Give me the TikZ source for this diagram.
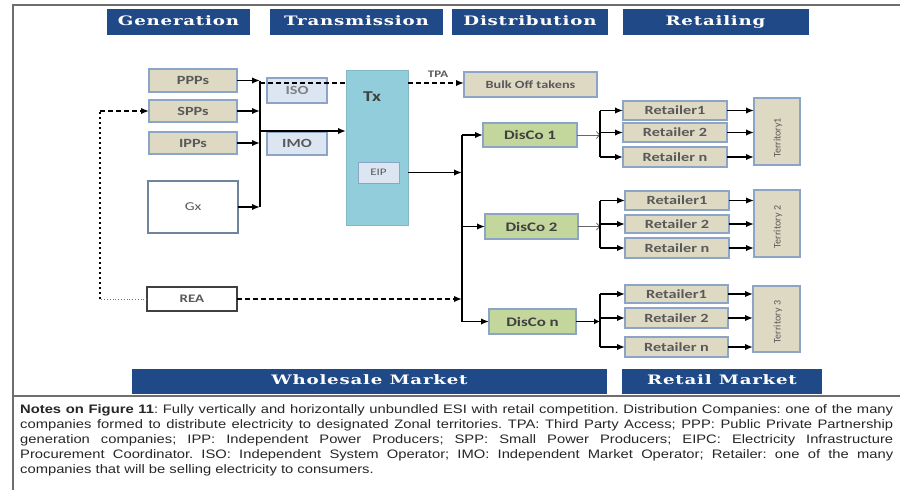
\documentclass[tikz,border=0pt]{standalone}
\usepackage{fontspec}
\setmainfont{Liberation Sans}
\newfontfamily\hdrfont[FakeStretch=1.4,LetterSpace=6]{DejaVu Serif}
\newfontfamily\boxfont[FakeStretch=1.3]{Carlito}
\newfontfamily\terrfont{Carlito}
\newfontfamily\notefont[FakeStretch=1.2]{Liberation Sans}
\usetikzlibrary{arrows.meta}
\frenchspacing
\definecolor{hdrblue}{RGB}{32,74,135}
\definecolor{tan}{RGB}{221,217,195}
\definecolor{tanborder}{RGB}{140,165,198}
\definecolor{lblue}{RGB}{220,230,242}
\definecolor{teal}{RGB}{146,205,220}
\definecolor{discogreen}{RGB}{195,214,155}
\definecolor{txtgray}{RGB}{89,89,89}
\definecolor{framegray}{RGB}{110,110,110}
\tikzset{
  hdr/.style={fill=hdrblue, draw=none, text=white, inner sep=0pt, outer sep=0pt,
    text height=9.5pt, text depth=2pt,
    font=\hdrfont\bfseries\fontsize{13}{15}\selectfont},
  bx/.style={draw=tanborder, line width=1.4pt, inner sep=0pt, outer sep=0pt, text=txtgray,
    font=\boxfont\bfseries\fontsize{12.5}{14}\selectfont},
  tanbox/.style={bx, fill=tan},
  bluebox/.style={bx, fill=lblue},
  greenbox/.style={bx, fill=discogreen, font=\boxfont\bfseries\fontsize{13}{15}\selectfont, text=black!75},
  terrbox/.style={bx, fill=tan},
  arr/.style={line width=1.7pt, -{Latex[length=8pt,width=6.5pt]}},
  dasharr/.style={line width=1.7pt, dash pattern=on 5pt off 3pt, -{Latex[length=8pt,width=6.5pt]}},
  busline/.style={line width=1.7pt},
  noteline/.style={anchor=base west, inner sep=0pt, font=\notefont\fontsize{12.3}{14}\selectfont, text=black!85},
}
\begin{document}
\begin{tikzpicture}[x=1pt,y=-1pt]
\useasboundingbox (0,0) rectangle (900,490);
% frame
\draw[framegray, line width=1.5pt] (13,490) -- (13,5) -- (900,5);
\draw[framegray, line width=1.5pt] (13,396) -- (900,396);
% headers
\node[hdr, minimum width=143pt, minimum height=26pt] (hgen) at (178.5,22) {Generation};
\node[hdr, minimum width=173pt, minimum height=26pt] (htx) at (356.5,22) {Transmission};
\node[hdr, minimum width=156pt, minimum height=26pt] (hdis) at (530,22) {Distribution};
\node[hdr, minimum width=186pt, minimum height=26pt] (hret) at (715.5,22) {Retailing};
\node[hdr, minimum width=475pt, minimum height=25pt] (hwm) at (369.5,381) {Wholesale Market};
\node[hdr, minimum width=200pt, minimum height=25pt] (hrm) at (722,381) {Retail Market};
% generation
\node[tanbox, minimum width=88pt, minimum height=23pt] (ppp) at (193,80.5) {PPPs};
\node[tanbox, minimum width=88pt, minimum height=22pt] (spp) at (193,111) {SPPs};
\node[tanbox, minimum width=88pt, minimum height=22pt] (ipp) at (193,143) {IPPs};
\node[bx, draw=tanborder!80!black, fill=white, minimum width=90pt, minimum height=52pt,
  font=\boxfont\fontsize{12}{14}\selectfont] (gx) at (193,207) {Gx};
\node[bx, draw=black!75, fill=white, line width=1.2pt, minimum width=90pt, minimum height=24pt,
  font=\boxfont\bfseries\fontsize{11.5}{13}\selectfont] (rea) at (192,299) {REA};
% transmission
\node[bluebox, minimum width=60pt, minimum height=25pt, text=black!50] (iso) at (297,90.5) {ISO};
\node[bluebox, minimum width=60pt, minimum height=23pt] (imo) at (297,143.5) {IMO};
\node[bx, fill=teal, draw=teal!90!black, line width=0.8pt, minimum width=62pt, minimum height=155pt] (tx) at (377,147.5) {};
\node[text=black!75, font=\boxfont\bfseries\fontsize{15}{17}\selectfont, inner sep=0pt] (txl) at (372,97) {Tx};
\node[bluebox, line width=0.8pt, minimum width=41pt, minimum height=21pt,
  font=\boxfont\fontsize{10}{12}\selectfont] (eip) at (378.5,172.5) {EIP};
\node[tanbox, minimum width=133pt, minimum height=25pt, font=\boxfont\bfseries\fontsize{11}{13}\selectfont] (bulk) at (530.5,84.5) {Bulk Off takens};
\node[text=txtgray, font=\boxfont\bfseries\fontsize{10}{12}\selectfont, inner sep=0pt] (tpa) at (438,74) {TPA};
% distribution
\node[greenbox, minimum width=94pt, minimum height=24pt] (d1) at (530,135) {DisCo 1};
\node[greenbox, minimum width=93pt, minimum height=25pt] (d2) at (531.5,226.5) {DisCo 2};
\node[greenbox, minimum width=87pt, minimum height=25pt] (dn) at (532.5,321.5) {DisCo n};
% retailers group 1
\node[tanbox, minimum width=104pt, minimum height=19pt] (r11) at (675,110.5) {Retailer1};
\node[tanbox, minimum width=104pt, minimum height=19pt] (r12) at (675,132.5) {Retailer 2};
\node[tanbox, minimum width=104pt, minimum height=20pt] (r1n) at (675,157) {Retailer n};
\node[terrbox, minimum width=46pt, minimum height=67pt] (t1) at (777,131.5) {};
\node[rotate=90, text=txtgray, font=\terrfont\fontsize{10}{12}\selectfont, inner sep=0pt] (t1l) at (778,138) {Territory1};
% group 2
\node[tanbox, minimum width=104pt, minimum height=19pt] (r21) at (677,200.5) {Retailer1};
\node[tanbox, minimum width=104pt, minimum height=18pt] (r22) at (677,224) {Retailer 2};
\node[tanbox, minimum width=104pt, minimum height=20pt] (r2n) at (677,248) {Retailer n};
\node[terrbox, minimum width=46pt, minimum height=67pt] (t2) at (777,223.5) {};
\node[rotate=90, text=txtgray, font=\terrfont\fontsize{10}{12}\selectfont, inner sep=0pt] (t2l) at (778,227) {Territory 2};
% group 3
\node[tanbox, minimum width=103pt, minimum height=18pt] (r31) at (676.5,294) {Retailer1};
\node[tanbox, minimum width=103pt, minimum height=20pt] (r32) at (676.5,318) {Retailer 2};
\node[tanbox, minimum width=103pt, minimum height=20pt] (r3n) at (676.5,347) {Retailer n};
\node[terrbox, minimum width=47pt, minimum height=66pt] (t3) at (776.5,319) {};
\node[rotate=90, text=txtgray, font=\terrfont\fontsize{10}{12}\selectfont, inner sep=0pt] (t3l) at (778,322) {Territory 3};
% bus coordinates
\coordinate (bus1) at (260,0);
\coordinate (bus2) at (462,0);
\coordinate (bus3) at (600,0);
\coordinate (loop) at (100,0);
\coordinate (feed) at (260,131);
\coordinate (dl) at (260,83);
% generation connectors
\draw[busline] (bus1 |- ppp) -- (bus1 |- gx);
\draw[arr] (ppp.east) -- (ppp.east -| bus1);
\draw[arr] (spp.east) -- (spp.east -| bus1);
\draw[arr] (ipp.east) -- (ipp.east -| bus1);
\draw[arr] (gx.east) -- (gx.east -| bus1);
\draw[arr] (feed) -- (feed -| tx.west);
\draw[line width=1.7pt, dash pattern=on 5pt off 3pt] (dl) -- (dl -| tx.west);
\draw[dasharr] (dl -| tx.east) -- (dl -| bulk.west);
% loop from REA
\draw[black!55, line width=0.8pt, dotted] (rea.west) -- (rea.west -| loop);
\draw[line width=2.6pt, dash pattern=on 2.5pt off 2.5pt] (rea.west -| loop) -- (spp.west -| loop);
\draw[dasharr] (spp.west -| loop) -- (spp.west);
% transmission to distribution
\draw[arr] (tx.east |- eip) -- (bus2 |- eip);
\draw[dasharr] (rea.east) -- (bus2 |- rea);
\draw[busline] (bus2 |- d1) -- (bus2 |- dn);
\draw[arr] (bus2 |- d1) -- (d1.west);
\draw[arr] (bus2 |- d2) -- (d2.west);
\draw[arr] (bus2 |- dn) -- (dn.west);
% distribution to retailers
\draw[black!60, line width=0.8pt, -{Straight Barb[length=3pt,width=7pt]}] (d1.east) -- (d1.east -| bus3);
\draw[black!60, line width=0.8pt, -{Straight Barb[length=3pt,width=7pt]}] (d2.east) -- (d2.east -| bus3);
\draw[line width=1.7pt, -{Latex[length=6pt,width=6pt]}] (dn.east) -- (dn.east -| bus3);
\draw[busline] (bus3 |- r11) -- (bus3 |- r1n);
\draw[busline] (bus3 |- r21) -- (bus3 |- r2n);
\draw[busline] (bus3 |- r31) -- (bus3 |- r3n);
\foreach \r in {r11,r12,r1n,r21,r22,r2n,r31,r32,r3n}{
  \draw[arr] (bus3 |- \r) -- (\r.west);
}
\foreach \r/\t in {r11/t1,r12/t1,r1n/t1,r21/t2,r22/t2,r2n/t2,r31/t3,r32/t3,r3n/t3}{
  \draw[arr] (\r.east) -- (\r.east -| \t.west);
}
% notes
\node[noteline] (n1) at (20,413) {\makebox[873pt][s]{\textbf{Notes on Figure 11}: Fully vertically and horizontally unbundled ESI with retail competition. Distribution Companies: one of the many}};
\node[noteline] (n2) at (20,428) {\makebox[873pt][s]{companies formed to distribute electricity to designated Zonal territories. TPA: Third Party Access; PPP: Public Private Partnership}};
\node[noteline] (n3) at (20,443) {\makebox[873pt][s]{generation companies; IPP: Independent Power Producers; SPP: Small Power Producers; EIPC: Electricity Infrastructure}};
\node[noteline] (n4) at (20,458) {\makebox[873pt][s]{Procurement Coordinator. ISO: Independent System Operator; IMO: Independent Market Operator; Retailer: one of the many}};
\node[noteline] (n5) at (20,473) {companies that will be selling electricity to consumers.};
\end{tikzpicture}
\end{document}
